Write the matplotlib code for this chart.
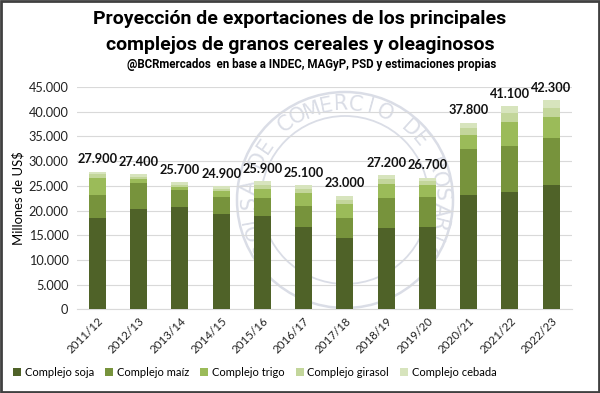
import matplotlib
matplotlib.use("Agg")
import matplotlib.pyplot as plt
from matplotlib.patches import Circle
from matplotlib.ticker import FuncFormatter, MultipleLocator
import numpy as np

# campañas
campanas = ["2011/12", "2012/13", "2013/14", "2014/15", "2015/16", "2016/17",
            "2017/18", "2018/19", "2019/20", "2020/21", "2021/22", "2022/23"]

# millones de US$ por complejo
soja    = [18600, 20300, 20700, 19400, 18900, 16700, 14500, 16400, 16700, 23200, 23800, 25100]
maiz    = [4600, 5200, 3500, 3400, 3700, 4200, 4100, 6100, 6000, 9300, 9300, 9600]
trigo   = [3500, 800, 600, 1200, 1800, 2600, 2700, 2800, 2500, 2900, 4800, 4300]
girasol = [700, 600, 400, 400, 800, 800, 900, 1000, 800, 1400, 1800, 1800]
cebada  = [500, 500, 500, 500, 700, 800, 800, 900, 700, 1000, 1400, 1500]
totales = [27900, 27400, 25700, 24900, 25900, 25100, 23000, 27200, 26700, 37800, 41100, 42300]

series = [soja, maiz, trigo, girasol, cebada]
nombres = ["Complejo soja", "Complejo maíz", "Complejo trigo", "Complejo girasol", "Complejo cebada"]
colores = ["#4f6228", "#77933c", "#9bbb59", "#c3d69b", "#d7e4bd"]

fuente = "Lato"
fuente_titulo = "Roboto"

def miles(v, pos=None):
    return f"{int(round(v)):,}".replace(",", ".")

fig = plt.figure(figsize=(6, 3.93), dpi=100)

# sello de agua de fondo (coordenadas en pixeles)
bg = fig.add_axes([0, 0, 1, 1], zorder=0)
bg.set_xlim(0, 600)
bg.set_ylim(0, 393)
bg.axis("off")
cx, cy = 345, 393 - 200
sello = "#dadde6"
bg.add_patch(Circle((cx, cy), 108, fill=False, edgecolor=sello, linewidth=1.8))
bg.add_patch(Circle((cx, cy), 84, fill=False, edgecolor=sello, linewidth=1.3))
leyenda_sello = "BOLSA DE COMERCIO DE ROSARIO"
for i, ch in enumerate(leyenda_sello):
    th = np.radians(208 - 8.9 * i)
    bg.text(cx + 96 * np.cos(th), cy + 96 * np.sin(th), ch, ha="center", va="center",
            rotation=np.degrees(th) - 90, fontsize=15, color=sello, family="DejaVu Sans")

ax = fig.add_axes([0.128, 0.2125, 0.825, 0.566], zorder=1)
ax.patch.set_alpha(0)

x = np.arange(len(campanas))
base = np.zeros(len(campanas))
for vals, nom, col in zip(series, nombres, colores):
    ax.bar(x, vals, width=0.41, bottom=base, color=col, label=nom, zorder=3)
    base += np.array(vals)

# etiquetas de total
for xi, t in zip(x, totales):
    ax.text(xi, t + 1300, miles(t), ha="center", va="bottom", fontsize=9.2,
            fontweight="bold", family=fuente, color="#111111")

ax.set_ylim(0, 45000)
ax.set_xlim(-0.5, len(campanas) - 0.5)
ax.yaxis.set_major_locator(MultipleLocator(5000))
ax.yaxis.set_major_formatter(FuncFormatter(miles))
ax.grid(axis="y", color="#d9d9d9", linewidth=0.8, zorder=0)
for s in ["top", "right", "left"]:
    ax.spines[s].set_visible(False)
ax.spines["bottom"].set_color("#d9d9d9")
ax.tick_params(axis="y", length=0, labelsize=9.2, pad=6, labelcolor="#222222")
ax.tick_params(axis="x", length=0, labelsize=8.3, pad=4, labelcolor="#222222")
ax.set_xticks(x)
ax.set_xticklabels(campanas, rotation=45, ha="right", rotation_mode="anchor")
for lab in ax.get_yticklabels() + ax.get_xticklabels():
    lab.set_family(fuente)
ax.set_ylabel("Millones de US$", fontsize=9.4, family=fuente, labelpad=3)

# titulo
fig.text(0.5, 0.952, "Proyección de exportaciones de los principales",
         ha="center", va="center", fontsize=14, fontweight="bold", family=fuente_titulo)
fig.text(0.5, 0.885, "complejos de granos cereales y oleaginosos",
         ha="center", va="center", fontsize=14, fontweight="bold", family=fuente_titulo)
fig.text(0.52, 0.836, "@BCRmercados  en base a INDEC, MAGyP, PSD y estimaciones propias",
         ha="center", va="center", fontsize=8.3, fontweight="bold", family=fuente_titulo)

leg = fig.legend(loc="center", bbox_to_anchor=(0.425, 0.053), ncol=5, frameon=False,
                 handlelength=0.7, handleheight=0.7, handletextpad=0.35,
                 columnspacing=1.0, prop={"family": fuente, "size": 8})

# marco
fig.patches.append(plt.Rectangle((0.002, 0.003), 0.996, 0.994, transform=fig.transFigure,
                                 fill=False, edgecolor="#404040", linewidth=2))

fig.savefig("out.png", dpi=100)
